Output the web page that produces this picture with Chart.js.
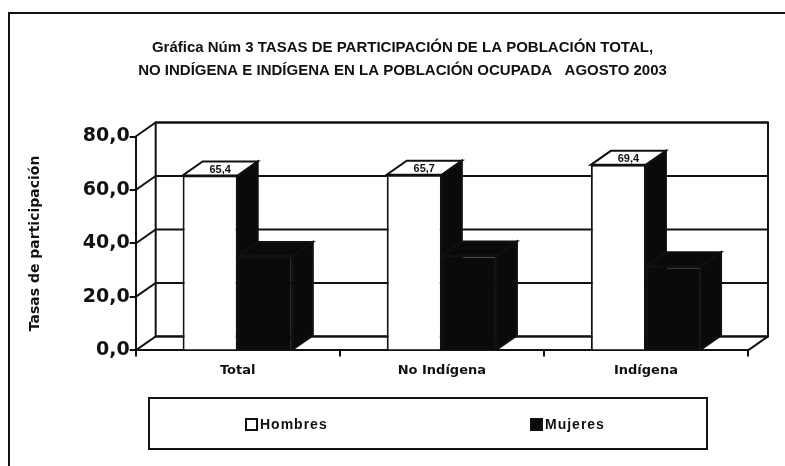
<!DOCTYPE html>
<html>
<head>
<meta charset="utf-8">
<script src="https://cdn.jsdelivr.net/npm/chart.js@4"></script>
<style>
  body { margin: 0; background: #fff; }
  #wrap { position: relative; width: 785px; height: 466px; overflow: hidden; }
  #frame {
    position: absolute; left: 8px; top: 12px; width: 800px; height: 480px;
    border-left: 2px solid #111; border-top: 2px solid #111;
  }
  #legend {
    position: absolute; left: 148px; top: 397px; width: 556px; height: 49px;
    border: 2px solid #111; font: bold 14px "Liberation Sans", Arial, sans-serif;
    letter-spacing: 1px; color: #111;
  }
  .item { position: absolute; top: 17px; display: flex; align-items: center; }
  .swatch { width: 9px; height: 9px; border: 2px solid #111; margin-right: 2px; }
  canvas { position: absolute; left: 0; top: 0; }
</style>
</head>
<body>
<div id="wrap">
  <div id="frame"></div>
  <canvas id="canvas" width="785" height="466"></canvas>
  <div id="legend"></div>
</div>
<script>
const categories = ["Total", "No Indígena", "Indígena"];
const seriesNames = ["Hombres", "Mujeres"];
const hombres = [65.4, 65.7, 69.4];
const mujeres = [35.3, 35.5, 31.5];
const yMax = 80;
const yStep = 20;

const fillColors = ["#ffffff", "#0a0a0a"];
const sideColors = ["#0a0a0a", "#0a0a0a"];
const depthX = 20;
const depthY = -14;

const fmt = (v) => v.toFixed(1).replace(".", ",");

const poly = (ctx, pts, fill) => {
  ctx.beginPath();
  ctx.moveTo(pts[0][0], pts[0][1]);
  pts.slice(1).forEach((p) => ctx.lineTo(p[0], p[1]));
  ctx.closePath();
  ctx.fillStyle = fill;
  ctx.fill();
  ctx.stroke();
};

// back wall, side wall and the 3d faces of each bar
const threeD = {
  id: "threeD",
  beforeDatasetsDraw(chart) {
    const { ctx, chartArea, scales } = chart;
    const { left, right, top, bottom } = chartArea;
    ctx.save();
    ctx.strokeStyle = "#111";
    ctx.lineWidth = 2;

    ctx.strokeRect(left + depthX, top + depthY, right - left, bottom - top);
    scales.y.ticks.forEach((t) => {
      const py = scales.y.getPixelForValue(t.value);
      ctx.beginPath();
      ctx.moveTo(left, py);
      ctx.lineTo(left + depthX, py + depthY);
      ctx.lineTo(right + depthX, py + depthY);
      ctx.stroke();
    });
    ctx.beginPath();
    ctx.moveTo(right, bottom);
    ctx.lineTo(right + depthX, bottom + depthY);
    ctx.stroke();

    chart.data.datasets.forEach((ds, di) => {
      const meta = chart.getDatasetMeta(di);
      meta.data.forEach((bar) => {
        const { x, y, width, base } = bar.getProps(["x", "y", "width", "base"], true);
        const x0 = x - width / 2;
        const x1 = x + width / 2;
        poly(ctx, [[x0, y], [x1, y], [x1 + depthX, y + depthY], [x0 + depthX, y + depthY]], fillColors[di]);
        poly(ctx, [[x1, y], [x1 + depthX, y + depthY], [x1 + depthX, base + depthY], [x1, base]], sideColors[di]);
      });
    });
    ctx.restore();
  },
  afterDatasetsDraw(chart) {
    const { ctx } = chart;
    const meta = chart.getDatasetMeta(0);
    ctx.save();
    ctx.font = "bold 11px 'Liberation Sans', Arial, sans-serif";
    ctx.fillStyle = "#111";
    ctx.textAlign = "center";
    ctx.textBaseline = "middle";
    meta.data.forEach((bar, i) => {
      const { x, y } = bar.getProps(["x", "y"], true);
      ctx.fillText(fmt(hombres[i]), x + depthX / 2, y + depthY / 2 + 1);
    });
    ctx.restore();
  },
};

const ctx = document.getElementById("canvas").getContext("2d");
new Chart(ctx, {
  type: "bar",
  data: {
    labels: categories,
    datasets: [
      {
        label: seriesNames[0],
        data: hombres,
        backgroundColor: fillColors[0],
        borderColor: "#111",
        borderWidth: 2,
      },
      {
        label: seriesNames[1],
        data: mujeres,
        backgroundColor: fillColors[1],
        borderColor: "#111",
        borderWidth: 2,
      },
    ],
  },
  options: {
    responsive: false,
    animation: false,
    layout: { padding: { left: 27, right: 7, top: 10, bottom: 82 } },
    datasets: { bar: { categoryPercentage: 0.54, barPercentage: 1.0 } },
    plugins: {
      legend: { display: false },
      tooltip: { enabled: false },
      title: {
        display: true,
        text: [
          "Gráfica Núm 3 TASAS DE PARTICIPACIÓN DE LA POBLACIÓN TOTAL,",
          "NO INDÍGENA E INDÍGENA EN LA POBLACIÓN OCUPADA   AGOSTO 2003",
        ],
        color: "#111",
        font: { family: "'Liberation Sans', Arial, sans-serif", size: 15, weight: "bold", lineHeight: 1.55 },
        padding: { top: 26, bottom: 54 },
      },
    },
    scales: {
      x: {
        grid: { drawOnChartArea: false, tickLength: 6, color: "#111", lineWidth: 2 },
        border: { color: "#111", width: 2 },
        ticks: {
          color: "#111",
          padding: 6,
          font: { family: "'DejaVu Sans', sans-serif", size: 13, weight: "bold" },
        },
      },
      y: {
        min: 0,
        max: yMax,
        grid: { drawOnChartArea: false, tickLength: 6, color: "#111", lineWidth: 2 },
        border: { color: "#111", width: 2 },
        ticks: {
          stepSize: yStep,
          color: "#111",
          padding: 0,
          callback: (v) => fmt(v),
          font: { family: "'DejaVu Sans', sans-serif", size: 19, weight: "bold" },
        },
        title: {
          display: true,
          text: "Tasas de participación",
          color: "#111",
          padding: { top: 0, bottom: 39 },
          font: { family: "'DejaVu Sans', sans-serif", size: 14, weight: "bold" },
        },
      },
      y2: {
        position: "right",
        display: true,
        grid: { display: false },
        border: { display: false },
        ticks: { display: false },
        afterFit: (s) => { s.width = 30; },
      },
    },
  },
  plugins: [threeD],
});

// legend in a framed box under the chart
const legend = document.getElementById("legend");
const itemLeft = [95, 380];
seriesNames.forEach((name, i) => {
  const item = document.createElement("div");
  item.className = "item";
  item.style.left = itemLeft[i] + "px";
  item.innerHTML = '<span class="swatch" style="background:' + fillColors[i] + '"></span>' + name;
  legend.appendChild(item);
});
</script>
</body>
</html>
